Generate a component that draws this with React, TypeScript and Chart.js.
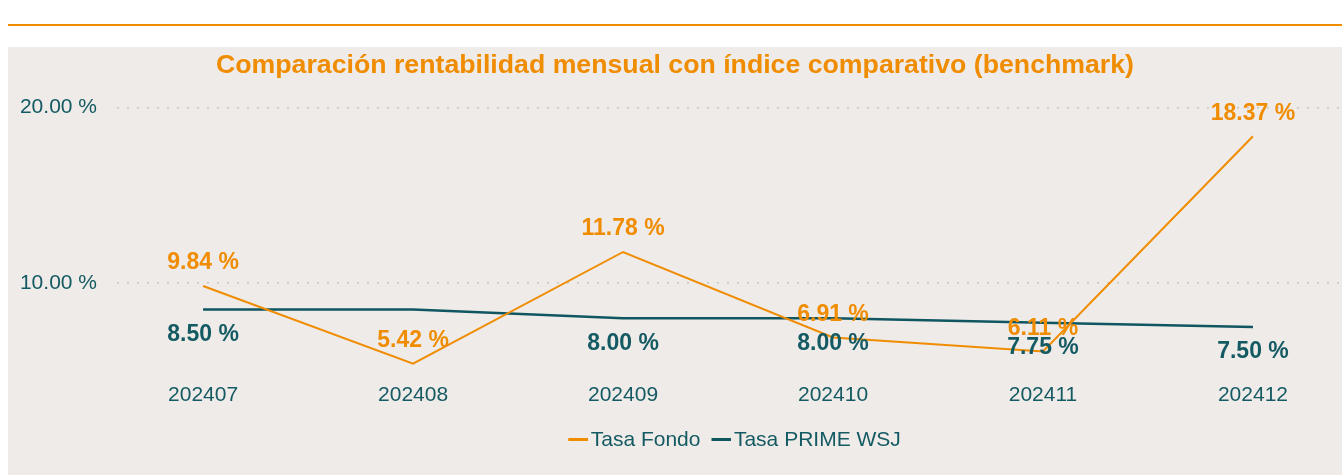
import React, { useEffect, useRef } from "react";
import { Chart, registerables } from "chart.js";

Chart.register(...registerables);

const categories = ["202407", "202408", "202409", "202410", "202411", "202412"];
const tasaFondo = [9.84, 5.42, 11.78, 6.91, 6.11, 18.37];
const tasaPrime = [8.5, 8.5, 8.0, 8.0, 7.75, 7.5];
const yTickValues = [10, 20];

const ORANGE = "#F08C00";
const TEAL = "#0F5660";
const TEAL_TEXT = "#145A63";
const BG = "#EFEBE8";
const FONT = "'Liberation Sans', Arial, Helvetica, sans-serif";

const labelOffsets = [-23, 25];
const LEGEND_SHIFT = 55.5;

function makeMarker(color: string) {
  const c = document.createElement("canvas");
  c.width = 36;
  c.height = 4;
  const g = c.getContext("2d")!;
  g.fillStyle = color;
  g.fillRect(16, 0, 20, 3);
  return c;
}

const dataLabelPlugin = {
  id: "dataLabels",
  afterDatasetsDraw(chart: any) {
    const ctx = chart.ctx;
    ctx.save();
    ctx.font = `bold 23px ${FONT}`;
    ctx.textAlign = "center";
    ctx.textBaseline = "middle";
    const boxes: { x: number; y: number; w: number }[] = [];
    chart.data.datasets.forEach((ds: any, di: number) => {
      const meta = chart.getDatasetMeta(di);
      ctx.fillStyle = di === 0 ? ORANGE : TEAL_TEXT;
      meta.data.forEach((el: any, i: number) => {
        const v = ds.data[i].y;
        const text = v.toFixed(2) + " %";
        const w = ctx.measureText(text).width;
        const x = el.x;
        const y = el.y + labelOffsets[di];
        const clash = boxes.some(
          (b) => Math.abs(b.y - y) < 12 && Math.abs(b.x - x) < (b.w + w) / 2
        );
        if (clash) return;
        boxes.push({ x, y, w });
        ctx.fillText(text, x, y);
      });
    });
    ctx.restore();
  },
};

const legendShiftPlugin = {
  id: "legendShift",
  afterLayout(chart: any) {
    const lg = chart.legend;
    if (lg) {
      lg.left += LEGEND_SHIFT;
      lg.right += LEGEND_SHIFT;
    }
  },
};

export default function App() {
  const ref = useRef<HTMLCanvasElement>(null);
  useEffect(() => {
    if (!ref.current) return;
    const markers = [makeMarker(ORANGE), makeMarker(TEAL)];
    const chart = new Chart(ref.current, {
      type: "line",
      data: {
        datasets: [
          {
            label: "Tasa Fondo",
            data: tasaFondo.map((v, i) => ({ x: i, y: v })),
            borderColor: ORANGE,
            backgroundColor: ORANGE,
            borderWidth: 2,
            pointRadius: 0,
            tension: 0,
          },
          {
            label: "Tasa PRIME WSJ",
            data: tasaPrime.map((v, i) => ({ x: i, y: v })),
            borderColor: TEAL,
            backgroundColor: TEAL,
            borderWidth: 2.5,
            pointRadius: 0,
            tension: 0,
          },
        ],
      },
      options: {
        responsive: false,
        animation: false,
        layout: { padding: { left: 0, right: 0, top: 0, bottom: 14.5 } },
        plugins: {
          title: {
            display: true,
            text: "Comparación rentabilidad mensual con índice comparativo (benchmark)",
            color: ORANGE,
            font: { family: FONT, size: 26.7, weight: "bold" },
            padding: { top: 2.5, bottom: 13.5 },
          },
          legend: {
            position: "bottom",
            labels: {
              usePointStyle: true,
              pointStyleWidth: 20,
              boxHeight: 21,
              padding: 3,
              color: TEAL_TEXT,
              font: { family: FONT, size: 21 },
              generateLabels: (c: any) =>
                Chart.defaults.plugins.legend.labels
                  .generateLabels(c)
                  .map((l: any, i: number) => ({
                    ...l,
                    lineWidth: 0,
                    pointStyle: markers[i],
                  })),
            },
          },
          tooltip: { enabled: false },
        },
        scales: {
          x: {
            type: "linear",
            min: -0.41,
            max: 5.424,
            afterBuildTicks: (s: any) => {
              s.ticks = categories.map((_, i) => ({ value: i }));
            },
            afterFit: (s: any) => {
              s.height = 55.5;
            },
            grid: { display: false, drawTicks: false },
            border: { display: false },
            ticks: {
              padding: 12,
              color: TEAL_TEXT,
              font: { family: FONT, size: 21 },
              maxRotation: 0,
              autoSkip: false,
              callback: (v: any) => categories[v] ?? "",
            },
          },
          y: {
            min: 5,
            max: 20.72,
            afterBuildTicks: (s: any) => {
              s.ticks = yTickValues.map((v) => ({ value: v }));
            },
            afterFit: (s: any) => {
              s.width = 109;
            },
            grid: {
              color: "#C9C6C3",
              lineWidth: 1.5,
              drawTicks: false,
            },
            border: { display: false, dash: [2, 8] },
            ticks: {
              padding: 20,
              color: TEAL_TEXT,
              font: { family: FONT, size: 21 },
              callback: (v: any) => Number(v).toFixed(2) + " %",
            },
          },
        },
      },
      plugins: [dataLabelPlugin, legendShiftPlugin],
    } as any);
    return () => chart.destroy();
  }, []);

  return (
    <div
      style={{
        position: "fixed",
        left: 0,
        top: 0,
        width: 1342,
        height: 475,
        background: "#FFFFFF",
        overflow: "hidden",
      }}
    >
      <div
        style={{
          position: "absolute",
          left: 8,
          top: 24,
          width: 1334,
          height: 2,
          background: ORANGE,
        }}
      />
      <div
        style={{
          position: "absolute",
          left: 8,
          top: 47,
          width: 1334,
          height: 428,
          background: BG,
        }}
      >
        <canvas ref={ref} width={1334} height={428} style={{ display: "block" }} />
      </div>
    </div>
  );
}
